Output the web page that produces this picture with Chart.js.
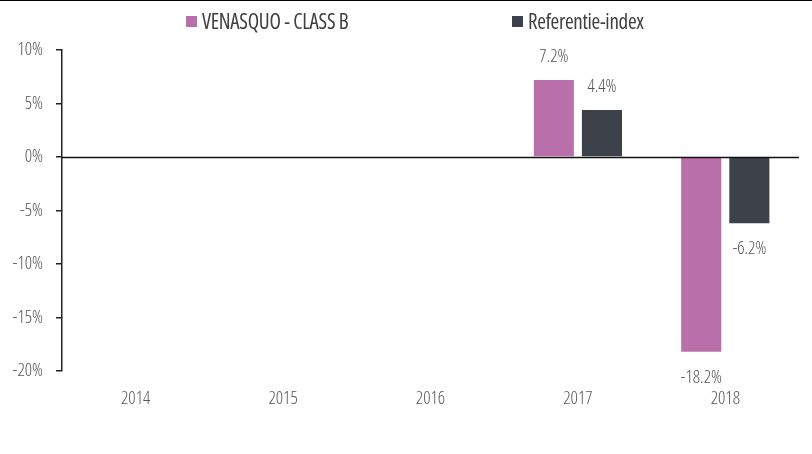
<!DOCTYPE html>
<html>
<head>
<meta charset="utf-8">
<script src="https://cdn.jsdelivr.net/npm/chart.js@4.4.1/dist/chart.umd.min.js"></script>
<style>
  html, body { margin: 0; padding: 0; background: #fff; }
  #wrap { position: relative; width: 812px; height: 454px; overflow: hidden; }
  #topline { position: absolute; left: 0; top: 0; width: 812px; height: 1px; background: #000; }
  .legend-item { position: absolute; top: 7px; display: flex; align-items: center;
    font-family: "Open Sans", sans-serif; font-stretch: condensed;
    font-size: 21px; color: #404040; white-space: nowrap; letter-spacing: -0.3px; }
  .legend-item span.box { display: inline-block; width: 11px; height: 11px; margin-right: 5px; }
</style>
</head>
<body>
<div id="wrap">
  <canvas id="perfChart" width="812" height="454"></canvas>
  <div id="topline"></div>
  <div class="legend-item" style="left:186px"><span class="box" style="background:#b970aa"></span>VENASQUO - CLASS B</div>
  <div class="legend-item" style="left:512px"><span class="box" style="background:#3d4149"></span>Referentie-index</div>
</div>
<script>
// jaarlijkse rendementen (%)
const years = ['2014', '2015', '2016', '2017', '2018'];
const fondsValues = [null, null, null, 7.2, -18.2];
const indexValues = [null, null, null, 4.4, -6.2];
const seriesNames = ['VENASQUO - CLASS B', 'Referentie-index'];
const yTicks = [10, 5, 0, -5, -10, -15, -20];

const FONT = '"Open Sans", sans-serif';
const GREY = '#555555';

// labels boven/onder de staven
const barLabels = {
    id: 'barLabels',
    afterDatasetsDraw(chart) {
        const ctx = chart.ctx;
        ctx.save();
        ctx.font = '300 condensed 18px ' + FONT;
        ctx.fillStyle = GREY;
        ctx.textAlign = 'center';
        ctx.textBaseline = 'middle';
        chart.data.datasets.forEach((ds, i) => {
            chart.getDatasetMeta(i).data.forEach((bar, j) => {
                const v = ds.data[j];
                if (v === null || v === undefined) return;
                const y = v >= 0 ? bar.y - 23 : bar.y + 26;
                ctx.fillText(v.toFixed(1) + '%', bar.x, y);
            });
        });
        // nul-lijn over de staven heen
        const yScale = chart.scales.y;
        const y0 = Math.round(yScale.getPixelForValue(0)) + 0.5;
        ctx.strokeStyle = '#111';
        ctx.lineWidth = 1.5;
        ctx.beginPath();
        ctx.moveTo(chart.chartArea.left, y0);
        ctx.lineTo(chart.chartArea.right, y0);
        ctx.stroke();
        ctx.restore();
    }
};

new Chart(document.getElementById('perfChart'), {
    type: 'bar',
    data: {
        labels: years,
        datasets: [
            { label: seriesNames[0], data: fondsValues, backgroundColor: '#b970aa' },
            { label: seriesNames[1], data: indexValues, backgroundColor: '#3d4149' }
        ]
    },
    options: {
        responsive: false,
        animation: false,
        categoryPercentage: 0.653,
        barPercentage: 0.833,
        layout: { padding: { top: 50, right: 13, left: 0, bottom: 0 } },
        plugins: {
            legend: { display: false },
            tooltip: { enabled: false }
        },
        scales: {
            x: {
                grid: { display: false },
                border: { display: false },
                ticks: { color: GREY, font: { family: FONT, size: 18, weight: '300 condensed' }, padding: 9 },
                afterFit: s => { s.height = 83; }
            },
            y: {
                min: -20,
                max: 10,
                afterBuildTicks: s => { s.ticks = yTicks.map(v => ({ value: v })); },
                grid: { drawOnChartArea: false, tickColor: '#222', tickLength: 6, lineWidth: 1.5 },
                border: { display: true, color: '#222', width: 1.5 },
                ticks: {
                    color: GREY,
                    font: { family: FONT, size: 18, weight: '300 condensed' },
                    padding: 13,
                    callback: v => v + '%'
                },
                afterFit: s => { s.width = 62; }
            }
        }
    },
    plugins: [barLabels]
});
</script>
</body>
</html>
